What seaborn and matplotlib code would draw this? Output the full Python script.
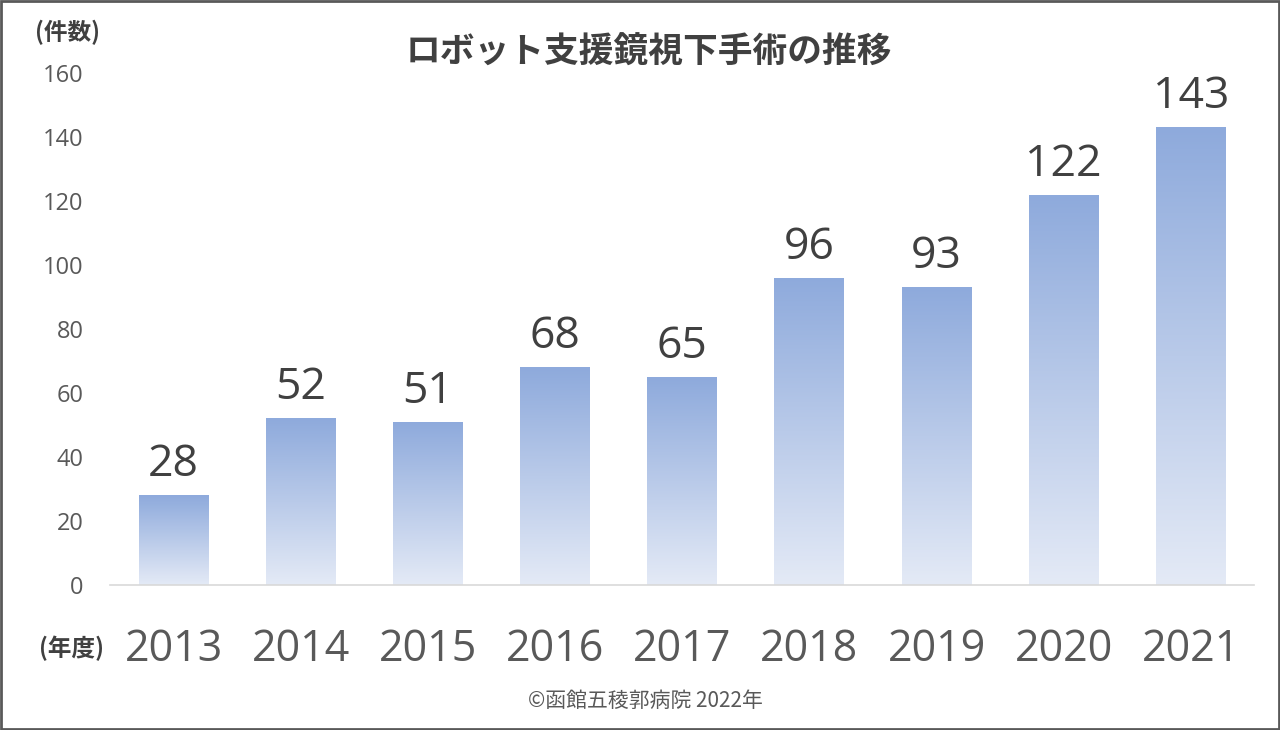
import matplotlib
matplotlib.use("Agg")
import matplotlib.pyplot as plt
import matplotlib.colors as mcolors
import numpy as np
import pandas as pd
import seaborn as sns

# data
years = ["2013", "2014", "2015", "2016", "2017", "2018", "2019", "2020", "2021"]
counts = [28, 52, 51, 68, 65, 96, 93, 122, 143]
y_ticks = [0, 20, 40, 60, 80, 100, 120, 140, 160]

title = "ロボット支援鏡視下手術の推移"
y_unit = "(件数)"
x_unit = "(年度)"
footer = "©函館五稜郭病院 2022年"

sns.set_theme(style="white")
plt.rcParams["font.family"] = ["Noto Sans CJK JP", "DejaVu Sans"]

df = pd.DataFrame({"year": years, "count": counts})

fig = plt.figure(figsize=(12.8, 7.3), dpi=100)
ax = fig.add_axes([0.086, 0.199, 0.894, 0.701])

sns.barplot(data=df, x="year", y="count", color="#8faadc", width=0.55, ax=ax)

# vertical gradient inside each bar (dark at top, pale at bottom)
cmap = mcolors.LinearSegmentedColormap.from_list("grad", ["#e4eaf6", "#8eaadc"])
grad = np.linspace(0, 1, 256).reshape(-1, 1)
for p in ax.patches:
    x0, y0 = p.get_x(), p.get_y()
    w, h = p.get_width(), p.get_height()
    p.set_facecolor("none")
    p.set_edgecolor("none")
    im = ax.imshow(grad, cmap=cmap, origin="lower", aspect="auto",
                   extent=[x0, x0 + w, y0, y0 + h], zorder=2)
    im.set_clip_path(p)
    ax.text(x0 + w / 2, h + 2.5, f"{int(h)}", ha="center", va="bottom",
            fontsize=32, color="#404040", family=["Open Sans", "DejaVu Sans"])

ax.set_xlim(-0.5, len(years) - 0.5)
ax.set_ylim(0, 160)
ax.set_yticks(y_ticks)
ax.set_xlabel("")
ax.set_ylabel("")
ax.tick_params(axis="y", labelsize=17, labelcolor="#595959", length=0, pad=19)
ax.tick_params(axis="x", labelsize=31, labelcolor="#595959", length=0, pad=31)
for lab in ax.get_xticklabels() + ax.get_yticklabels():
    lab.set_family(["Open Sans", "DejaVu Sans"])
for s in ["top", "right", "left"]:
    ax.spines[s].set_visible(False)
ax.spines["bottom"].set_color("#d9d9d9")
ax.spines["bottom"].set_linewidth(1.2)

fig.text(0.507, 0.928, title, ha="center", va="center", fontsize=25,
         fontweight="bold", color="#404040")
fig.text(0.053, 0.955, y_unit, ha="center", va="center", fontsize=17,
         fontweight="bold", color="#404040")
fig.text(0.056, 0.112, x_unit, ha="center", va="center", fontsize=17,
         fontweight="bold", color="#404040")
fig.text(0.504, 0.04, footer, ha="center", va="center", fontsize=15,
         color="#595959")

# outer frame
fig.patches.append(plt.Rectangle((0.001, 0.001), 0.998, 0.997, transform=fig.transFigure,
                                 fill=False, edgecolor="#595959", linewidth=2))

fig.savefig("out.png", dpi=100)
plt.close(fig)
